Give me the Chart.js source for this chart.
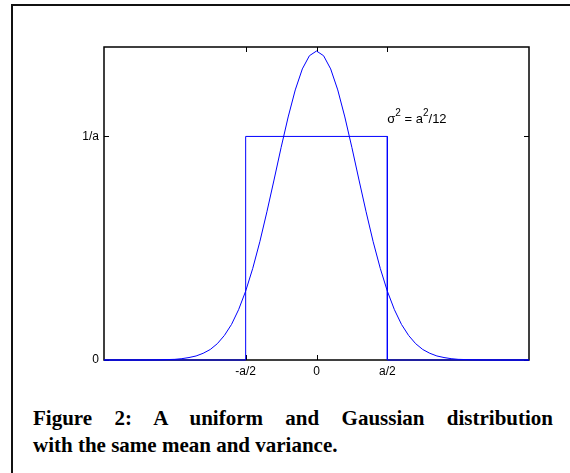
<!DOCTYPE html>
<html>
<head>
<meta charset="utf-8">
<script src="https://cdn.jsdelivr.net/npm/chart.js@4.4.0/dist/chart.umd.min.js"></script>
<style>
  html, body { margin: 0; padding: 0; background: #fff; }
  body { width: 570px; height: 473px; position: relative; overflow: hidden; }
  #frame { position: absolute; left: 11px; top: 4px; width: 600px; height: 500px;
           border-left: 2px solid #111; border-top: 2px solid #111; }
  #wrap { position: absolute; left: 0; top: 0; width: 570px; height: 400px; }
  #caption { position: absolute; left: 33px; width: 520px; top: 405px;
             font: bold 21px/27px "Liberation Serif", "Times New Roman", serif; color: #000; }
  #caption .l1 { text-align: justify; text-align-last: justify; white-space: nowrap; }
  #caption .l2 { text-align: left; white-space: nowrap; }
</style>
</head>
<body>
<div id="frame"></div>
<div id="wrap"><canvas id="chart"></canvas></div>
<div id="caption">
  <div class="l1">Figure 2: A uniform and Gaussian distribution</div>
  <div class="l2">with the same mean and variance.</div>
</div>
<script>
// tick positions (x in units of a, y in units of 1/a) and their labels
const xTickValues = [-0.5, 0, 0.5];
const xTickLabels = ['-a/2', '0', 'a/2'];
const yTickValues = [0, 1];
const yTickLabels = ['0', '1/a'];

// uniform density on [-a/2, a/2]
const uniformX = [-1.5, -0.5, -0.5, 0.5, 0.5, 1.5];
const uniformY = [0, 0, 1, 1, 0, 0];

// gaussian with the same variance
const gaussX = [-1.5, -1.3, -1.2, -1.1, -1.05, -1.0, -0.95, -0.9, -0.85, -0.8, -0.75, -0.7, -0.65,
  -0.6, -0.55, -0.5, -0.45, -0.4, -0.35, -0.3, -0.25, -0.2, -0.15, -0.1, -0.05, 0,
  0.05, 0.1, 0.15, 0.2, 0.25, 0.3, 0.35, 0.4, 0.45, 0.5, 0.55, 0.6, 0.65, 0.7, 0.75,
  0.8, 0.85, 0.9, 0.95, 1.0, 1.05, 1.1, 1.2, 1.3, 1.5];
const gaussY = [0, 0, 0.0002, 0.001, 0.002, 0.003, 0.006, 0.011, 0.018, 0.030, 0.047, 0.073, 0.110,
  0.159, 0.225, 0.308, 0.410, 0.529, 0.663, 0.805, 0.950, 1.087, 1.208, 1.302, 1.361, 1.382,
  1.361, 1.302, 1.208, 1.087, 0.950, 0.805, 0.663, 0.529, 0.410, 0.308, 0.225, 0.159, 0.110, 0.073, 0.047,
  0.030, 0.018, 0.011, 0.006, 0.003, 0.002, 0.001, 0.0002, 0, 0];

const toPoints = (xs, ys) => xs.map((v, i) => ({ x: v, y: ys[i] }));

const tickFont = { family: '"Liberation Sans", Arial, sans-serif', size: 12 };

// box with inward ticks like matlab, plus the sigma note
const axesBox = {
  id: 'axesBox',
  beforeDatasetsDraw(chart) {
    const { ctx, chartArea: { left, right, top, bottom }, scales: { x, y } } = chart;
    ctx.save();
    ctx.strokeStyle = '#000';
    ctx.lineWidth = 1.5;
    ctx.strokeRect(left, top, right - left, bottom - top);
    ctx.lineWidth = 1;
    ctx.beginPath();
    xTickValues.forEach(v => {
      const px = Math.round(x.getPixelForValue(v)) + 0.5;
      ctx.moveTo(px, bottom); ctx.lineTo(px, bottom - 5);
      ctx.moveTo(px, top); ctx.lineTo(px, top + 5);
    });
    yTickValues.forEach(v => {
      const py = Math.round(y.getPixelForValue(v)) + 0.5;
      ctx.moveTo(left, py); ctx.lineTo(left + 5, py);
      ctx.moveTo(right, py); ctx.lineTo(right - 5, py);
    });
    ctx.stroke();
    ctx.restore();
  },
  afterDatasetsDraw(chart) {
    const { ctx, scales: { x, y } } = chart;
    let px = x.getPixelForValue(0.5);
    const py = y.getPixelForValue(1.06);
    const parts = [['\u03c3', 0], ['2', 1], [' = a', 0], ['2', 1], ['/12', 0]];
    ctx.save();
    ctx.fillStyle = '#000';
    ctx.textBaseline = 'alphabetic';
    parts.forEach(([txt, sup]) => {
      ctx.font = (sup ? '10px' : '13px') + ' "Liberation Sans", Arial, sans-serif';
      ctx.fillText(txt, px, sup ? py - 7 : py);
      px += ctx.measureText(txt).width;
    });
    ctx.restore();
  }
};

new Chart(document.getElementById('chart'), {
  type: 'scatter',
  data: {
    datasets: [
      {
        label: 'uniform',
        data: toPoints(uniformX, uniformY),
        showLine: true,
        borderColor: '#0000ff',
        borderWidth: 1,
        pointRadius: 0,
        tension: 0,
        clip: false
      },
      {
        label: 'gaussian',
        data: toPoints(gaussX, gaussY),
        showLine: true,
        borderColor: '#0000ff',
        borderWidth: 1,
        pointRadius: 0,
        tension: 0,
        clip: false
      }
    ]
  },
  options: {
    responsive: true,
    maintainAspectRatio: false,
    animation: false,
    layout: { padding: { left: 0, right: 41, top: 47, bottom: 0 } },
    plugins: { legend: { display: false }, tooltip: { enabled: false } },
    scales: {
      x: {
        type: 'linear',
        min: -1.5,
        max: 1.5,
        afterBuildTicks: s => { s.ticks = xTickValues.map(v => ({ value: v })); },
        afterFit: s => { s.height = 40; },
        ticks: {
          autoSkip: false, maxRotation: 0, padding: 4, color: '#000', font: tickFont,
          callback: (v, i) => xTickLabels[i]
        },
        grid: { display: false, drawTicks: false },
        border: { display: false }
      },
      y: {
        type: 'linear',
        min: 0,
        max: 1.4,
        afterBuildTicks: s => { s.ticks = yTickValues.map(v => ({ value: v })); },
        afterFit: s => { s.width = 104; },
        ticks: {
          autoSkip: false, padding: 5, color: '#000', font: tickFont,
          callback: (v, i) => yTickLabels[i]
        },
        grid: { display: false, drawTicks: false },
        border: { display: false }
      }
    }
  },
  plugins: [axesBox]
});
</script>
</body>
</html>
